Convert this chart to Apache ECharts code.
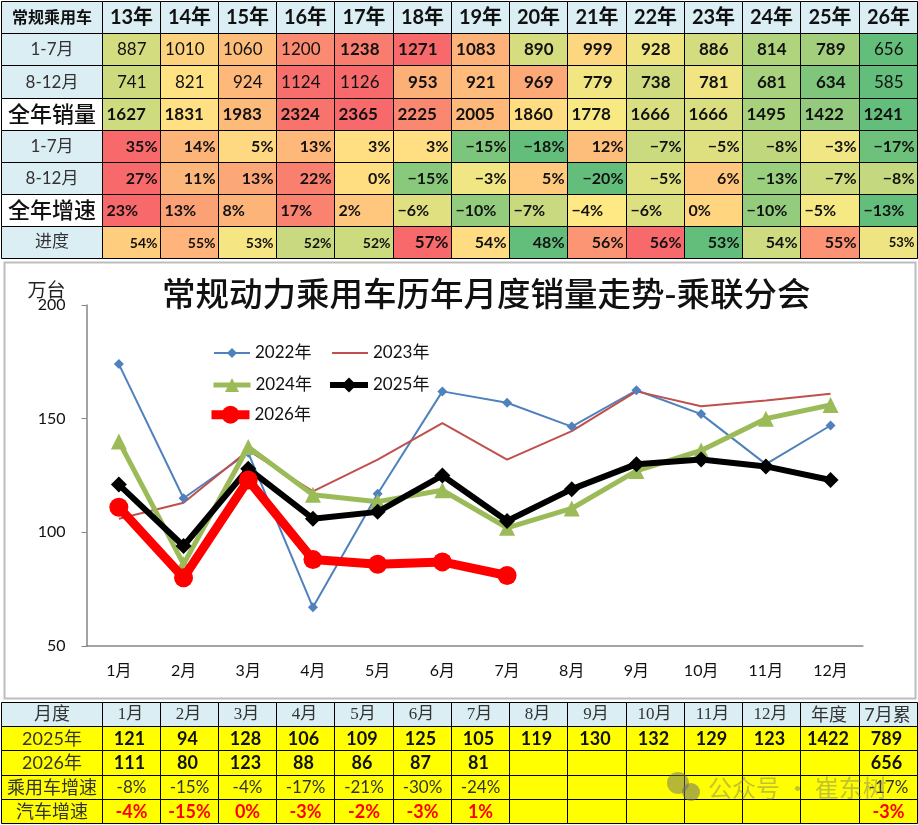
<!DOCTYPE html>
<html><head><meta charset="utf-8">
<style>html,body{margin:0;padding:0;background:#fff}#c{width:918px;height:825px}</style>
<script src="https://cdn.jsdelivr.net/npm/echarts@6/dist/echarts.min.js"></script>
</head><body><div id="c"></div>
<script>
// ---------- data: top table ----------
const years = ['13年','14年','15年','16年','17年','18年','19年','20年','21年','22年','23年','24年','25年','26年'];
const topRowLabels = ['常规乘用车','1-7月','8-12月','全年销量','1-7月','8-12月','全年增速','进度'];
const sales1to7 = [887,1010,1060,1200,1238,1271,1083,890,999,928,886,814,789,656];
const sales8to12 = [741,821,924,1124,1126,953,921,969,779,738,781,681,634,585];
const salesYear = [1627,1831,1983,2324,2365,2225,2005,1860,1778,1666,1666,1495,1422,1241];
const growth1to7 = [35,14,5,13,3,3,-15,-18,12,-7,-5,-8,-3,-17];
const growth8to12 = [27,11,13,22,0,-15,-3,5,-20,-5,6,-13,-7,-8];
const growthYear = [23,13,8,17,2,-6,-10,-7,-4,-6,0,-10,-5,-13];
const progress = [54,55,53,52,52,57,54,48,56,56,53,54,55,53];
// ---------- data: line chart ----------
const months = ['1月','2月','3月','4月','5月','6月','7月','8月','9月','10月','11月','12月'];
const line2022 = [174,115,135,67,117,162,157,146.5,162.5,152,130,147];
const line2023 = [106,113,136,118,132,148,132,144.5,162,155.5,158,161];
const line2024 = [140,86,137.5,116.5,113.5,118.5,102,110.5,127,136,150,156];
// ---------- data: bottom table ----------
const bottomHead = ['1月','2月','3月','4月','5月','6月','7月','8月','9月','10月','11月','12月','年度','7月累'];
const bottomRowLabels = ['月度','2025年','2026年','乘用车增速','汽车增速'];
const values2025 = [121,94,128,106,109,125,105,119,130,132,129,123,1422,789];
const values2026 = [111,80,123,88,86,87,81,null,null,null,null,null,null,656];
const paxGrowth = [-8,-15,-4,-17,-21,-30,-24,null,null,null,null,null,null,-17];
const autoGrowth = [-4,-15,0,-3,-2,-3,1,null,null,null,null,null,null,-3];
// ---------- styles ----------
const heatColors = [
 ['#D3DC7F','#FDD27F','#FDBE7B','#FA8A71','#F97D6F','#F8696B','#FDB279','#D6DD7F','#FDD780','#EEE582','#D3DC7F','#B0D47E','#A3CF7D','#63BE7B'],
 ['#CEDA7E','#FFE383','#FDB87A','#F86E6C','#F8696B','#FDAF78','#FEBB7B','#FCA877','#F2E682','#CFDB7E','#F0E582','#A9D27E','#7FC67C','#63BE7B'],
 ['#CFDB7F','#FFE083','#FDBB7A','#F9736D','#F8696B','#FA8871','#FDB87A','#FFDB81','#F8E983','#D9DE80','#D9DE80','#A8D17E','#93CA7D','#63BE7B'],
 ['#F8696B','#FDB479','#FFD981','#FDB87A','#FFDF82','#FFDF82','#7BC57C','#63BE7B','#FEBE7B','#C9DA7F','#DEE080','#C0D77E','#F0E683','#6DC17B'],
 ['#F8696B','#FDB67A','#FCA777','#F9806F','#FFDE82','#88C97C','#F0E683','#FFCA7E','#63BE7B','#E0E281','#FFC77D','#9ACF7D','#CEDC7F','#C4D97F'],
 ['#F8696B','#FCA176','#FDB479','#FA8370','#FFC67D','#E0E081','#94CC7D','#C8D97F','#FFE984','#DDE080','#FFD580','#94CC7D','#F6E883','#63BE7B'],
 ['#FFCD7E','#FEB47A','#F5E683','#C9D97F','#CDDB7F','#F8696B','#FFDC81','#63BE7B','#FB9574','#F8696B','#63BE7B','#CEDB7F','#FB9374','#EFE482']
];
const boldRow1 = [0,0,0,0,1,1,1,1,1,1,1,1,1,0];
const boldRow2 = [0,0,0,0,0,1,1,1,1,1,1,1,1,0];
const progressSizes = [14,14,14,14,14,17,16,16,16,16,16,16,16,13];
const SANS = 'Lato,"Noto Sans CJK SC",sans-serif';
const SERIF = '"Liberation Serif","Noto Sans CJK SC",serif';
const HEAD = '#DAEEF3', YEL = '#FFFF00';
const pct = v => (v < 0 ? '\u2212' + (-v) : v) + '%';
const pctB = v => v + '%';

const cells = {top:[], topLab:[], bot:[], botLab:[]};
function add(k, c, r, text, fill, font, color, align, pad){
  cells[k].push({c, r, text: text == null ? '' : String(text), fill, font, color: color || '#111', align: align || 'center', pad: pad || 0});
}
years.forEach((y,c)=>add('top',c,0,y,HEAD,'bold 20px '+SANS));
[sales1to7,sales8to12,salesYear,growth1to7,growth8to12,growthYear,progress].forEach((arr,i)=>{
  arr.forEach((v,c)=>{
    const r=i+1, fill=heatColors[i][c];
    if(i===0) add('top',c,r,v,fill,(boldRow1[c]?'bold ':'')+'17px '+SANS,'#111','right',14);
    else if(i===1) add('top',c,r,v,fill,(boldRow2[c]?'bold ':'')+'17px '+SANS,'#111','right',14);
    else if(i===2) add('top',c,r,v,fill,'bold 17px '+SANS,'#111','left',4);
    else if(i===3||i===4) add('top',c,r,pct(v),fill,'bold 16px '+SANS,'#111','right',3);
    else if(i===5) add('top',c,r,pct(v),fill,'bold 16px '+SANS,'#111','left',4);
    else add('top',c,r,pctB(v),fill,'bold '+progressSizes[c]+'px '+SANS,'#111','right',3);
  });
});
const topLabFonts = ['bold 16px '+SANS,'17px '+SANS,'17px '+SANS,'500 22px '+SANS,'17px '+SANS,'17px '+SANS,'500 22px '+SANS,'17px '+SERIF];
const topLabFills = [HEAD,HEAD,HEAD,'#FFFFFF',HEAD,HEAD,'#FFFFFF',HEAD];
topRowLabels.forEach((t,r)=>add('topLab',0,r,t,topLabFills[r],topLabFonts[r],r===1||r===2||r===4||r===5||r===7?'#333':'#111'));
bottomHead.forEach((t,c)=>add('bot',c,0,t,HEAD,(c<12?'17px '+SERIF:'18px '+SANS),'#333','center',-1));
[values2025,values2026].forEach((arr,i)=>arr.forEach((v,c)=>add('bot',c,i+1,v,YEL,'bold 18px '+SANS,'#111','center',-2)));
paxGrowth.forEach((v,c)=>add('bot',c,3,v==null?'':pctB(v),YEL,'17px '+SANS,'#333','center',0));
autoGrowth.forEach((v,c)=>add('bot',c,4,v==null?'':pctB(v),YEL,'bold 18px '+SANS,'#FF0000','center',0));
const botLabFonts = ['18px '+SERIF,'18px '+SANS,'18px '+SANS,'18px '+SANS,'18px '+SANS];
bottomRowLabels.forEach((t,r)=>add('botLab',0,r,t,r===0?HEAD:YEL,botLabFonts[r],'#333'));

function tableSeries(key, gridIdx){
  const list = cells[key];
  return {
    type:'custom', xAxisIndex:gridIdx, yAxisIndex:gridIdx, silent:true, clip:false, z:3,
    encode:{x:0,y:1},
    data:list.map(d=>[d.c,d.r]),
    renderItem(params, api){
      const d = list[params.dataIndex];
      const p = api.coord([api.value(0), api.value(1)]);
      const s = api.size([1,1]);
      const x0 = Math.round(p[0]-s[0]/2)+0.5, x1 = Math.round(p[0]+s[0]/2)+0.5;
      const y0 = Math.round(p[1]-s[1]/2)+0.5, y1 = Math.round(p[1]+s[1]/2)+0.5;
      const tx = d.align==='left' ? x0+d.pad : d.align==='right' ? x1-d.pad : (x0+x1)/2+d.pad;
      return {type:'group', children:[
        {type:'rect', shape:{x:x0,y:y0,width:x1-x0,height:y1-y0}, style:{fill:d.fill,stroke:'#000',lineWidth:1}},
        {type:'text', style:{text:d.text,x:tx,y:(y0+y1)/2+0.5,font:d.font,fill:d.color,align:d.align,verticalAlign:'middle'}}
      ]};
    }
  };
}
function hiddenCat(gridIndex, n, inverse){
  return {gridIndex, type:'category', show:false, inverse:!!inverse, data:Array.from({length:n},(_,i)=>i)};
}
function legendItem(name, left, centerY, markerSize, iconWidth, extra){
  const h = markerSize/0.8;
  return {left, top:centerY-Math.max(h,20)/2, itemWidth:iconWidth, itemHeight:h, itemGap:0, padding:0,
    data:[extra ? Object.assign({name},extra) : name],
    lineStyle:{width:'inherit'},
    textStyle:{fontFamily:SANS,fontSize:17,color:'#111',lineHeight:20}};
}
const L0=0.5, L1=101.5;
const option = {
  animation:false, backgroundColor:'#fff',
  title:{text:'常规动力乘用车历年月度销量走势-乘联分会', left:157, top:272,
    textStyle:{fontFamily:'"Noto Sans CJK SC"',fontSize:33.5,fontWeight:500,color:'#111'}},
  legend:[
    legendItem('2022年',213,353,10,36),
    legendItem('2023年',331,353,10,36,{itemStyle:{opacity:0}}),
    legendItem('2024年',211,385,14,37),
    legendItem('2025年',327,385,15,38),
    legendItem('2026年',207,416,18,38)
  ],
  grid:[
    {left:L1,top:1,width:815.4,height:257.4},
    {left:L0,top:1,width:101,height:257.4},
    {left:L1,top:701.7,width:815.4,height:121.6},
    {left:L0,top:701.7,width:101,height:121.6},
    {left:86.5,top:305,width:776.4,height:341}
  ],
  xAxis:[hiddenCat(0,14),hiddenCat(1,1),hiddenCat(2,14),hiddenCat(3,1),
    {gridIndex:4,type:'category',data:months,boundaryGap:true,
     axisLine:{lineStyle:{color:'#868686',width:1.5}},
     axisTick:{inside:true,length:5,lineStyle:{color:'#868686'}},
     axisLabel:{color:'#111',fontFamily:SANS,fontSize:16,margin:17,interval:0}}],
  yAxis:[hiddenCat(0,8,true),hiddenCat(1,8,true),hiddenCat(2,5,true),hiddenCat(3,5,true),
    {gridIndex:4,type:'value',min:50,max:200,interval:50,splitLine:{show:false},
     name:'万台',nameLocation:'end',nameGap:13,nameMoveOverlap:false,
     nameTextStyle:{fontFamily:SERIF,fontSize:19,color:'#222',align:'right',verticalAlign:'middle',padding:[0,21,0,0]},
     axisLine:{show:true,lineStyle:{color:'#868686',width:1.5}},
     axisTick:{show:true,length:5,lineStyle:{color:'#868686'}},
     axisLabel:{color:'#111',fontFamily:SANS,fontSize:16,margin:21}}],
  series:[
    tableSeries('top',0),tableSeries('topLab',1),tableSeries('bot',2),tableSeries('botLab',3),
    {name:'2022年',type:'line',xAxisIndex:4,yAxisIndex:4,data:line2022,z:4,symbol:'diamond',symbolSize:10,
      lineStyle:{color:'#4F81BD',width:2},itemStyle:{color:'#4F81BD'}},
    {name:'2023年',type:'line',xAxisIndex:4,yAxisIndex:4,data:line2023,z:4,symbol:'none',
      lineStyle:{color:'#C0504D',width:2},itemStyle:{color:'#C0504D'}},
    {name:'2024年',type:'line',xAxisIndex:4,yAxisIndex:4,data:line2024,z:5,symbol:'triangle',symbolSize:16,
      lineStyle:{color:'#9BBB59',width:5},itemStyle:{color:'#9BBB59'}},
    {name:'2025年',type:'line',xAxisIndex:4,yAxisIndex:4,data:values2025.slice(0,12),z:6,symbol:'diamond',symbolSize:16,
      lineStyle:{color:'#000',width:6},itemStyle:{color:'#000'}},
    {name:'2026年',type:'line',xAxisIndex:4,yAxisIndex:4,data:values2026.slice(0,7),z:7,symbol:'circle',symbolSize:19,
      lineStyle:{color:'#FF0000',width:9},itemStyle:{color:'#FF0000'}}
  ],
  graphic:[
    {type:'rect',z:-1,shape:{x:4.5,y:262.5,width:911,height:436},style:{fill:'#fff',stroke:'#BDBDBD',lineWidth:2}},
    {type:'circle',z:100,silent:true,shape:{cx:678,cy:783,r:11},style:{fill:'rgba(110,110,110,0.5)'}},
    {type:'circle',z:100,silent:true,shape:{cx:691,cy:792,r:9},style:{fill:'rgba(110,110,110,0.55)'}},
    {type:'text',z:100,silent:true,style:{text:'公众号 · 崔东树',x:708,y:788,font:'24px "Noto Sans CJK SC"',fill:'rgba(120,120,120,0.45)',verticalAlign:'middle'}}
  ]
};
echarts.init(document.getElementById('c'),null,{renderer:'canvas'}).setOption(option);
</script>
</body></html>
